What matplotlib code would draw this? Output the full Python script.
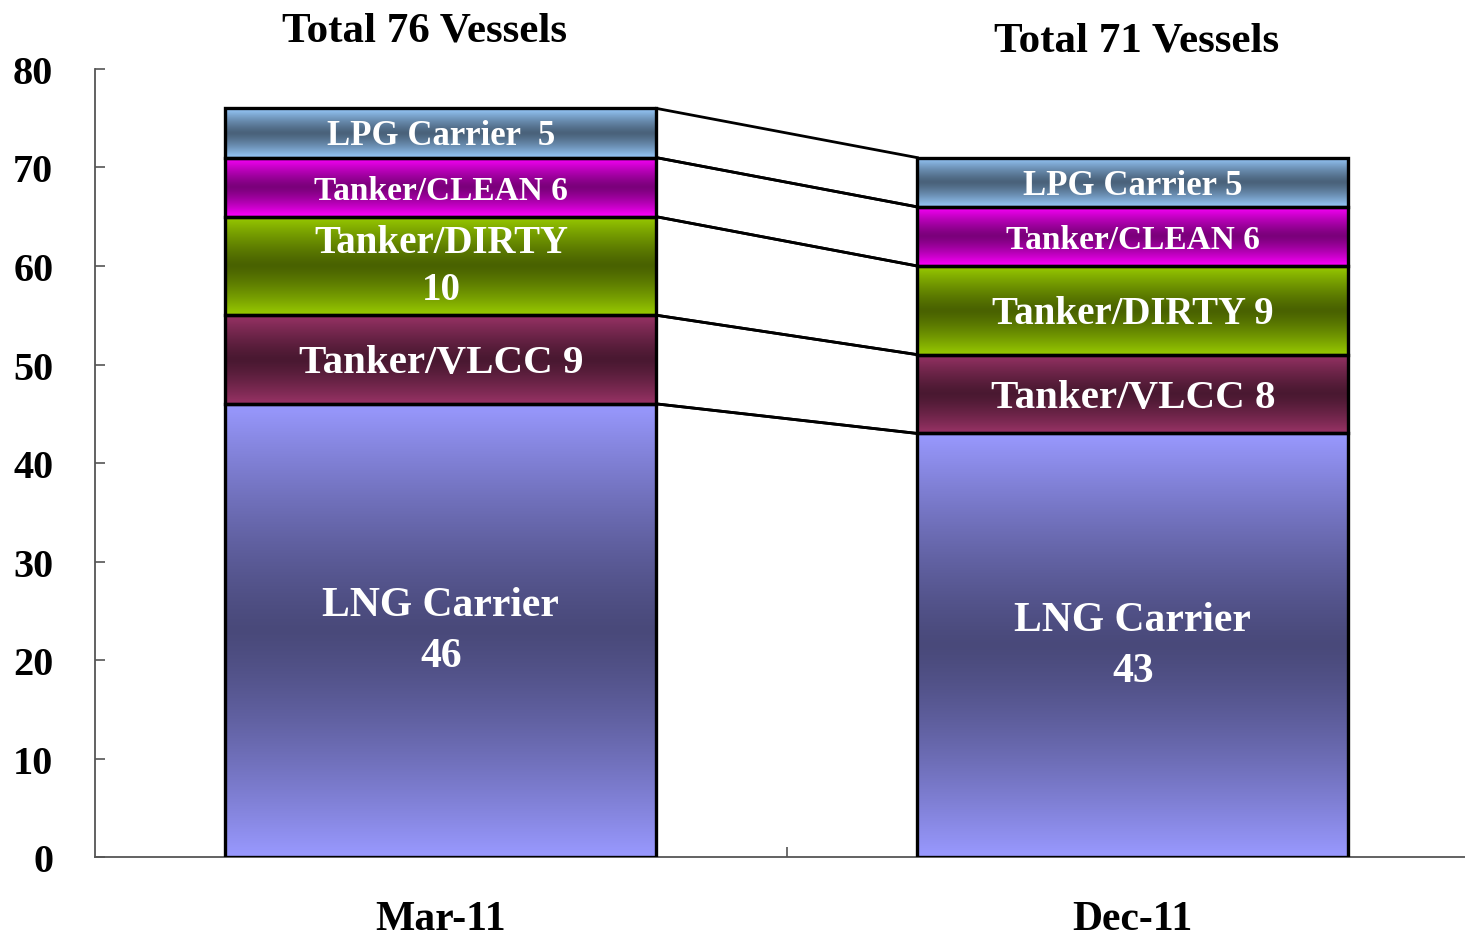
import matplotlib
matplotlib.use('Agg')
import matplotlib.pyplot as plt
import numpy as np
from matplotlib.colors import to_rgb

plt.rcParams['font.family'] = ['Liberation Serif', 'DejaVu Serif']
plt.rcParams['font.weight'] = 'bold'

# data
periods = ['Mar-11', 'Dec-11']
totals = [76, 71]
segments = ['LNG Carrier', 'Tanker/VLCC', 'Tanker/DIRTY', 'Tanker/CLEAN', 'LPG Carrier']
mar11 = [46, 9, 10, 6, 5]
dec11 = [43, 8, 9, 6, 5]
labels_mar = ['LNG Carrier\n46', 'Tanker/VLCC 9', 'Tanker/DIRTY\n10', 'Tanker/CLEAN 6', 'LPG Carrier  5']
labels_dec = ['LNG Carrier\n43', 'Tanker/VLCC 8', 'Tanker/DIRTY 9', 'Tanker/CLEAN 6', 'LPG Carrier 5']

edge_colors = ['#9999FF', '#993366', '#99CC00', '#FF00FF', '#99CCFF']
label_sizes = [30, 29.5, 28, 24, 25]
line_gaps = [1.45, 1.0, 1.38, 1.0, 1.0]

fig = plt.figure(figsize=(14.65, 9.37), dpi=100)
ax = fig.add_axes([0.0648, 0.0843, 0.9352, 0.841])

width = 0.623
x = np.arange(len(periods))
values = np.array([mar11, dec11]).T  # segment x period
bottoms = np.vstack([np.zeros(len(periods)), np.cumsum(values, axis=0)[:-1]])


def gradient(color, n=256):
    c = np.array(to_rgb(color))
    dark = c * 0.48
    t = np.linspace(-1, 1, n)
    w = np.abs(t)[:, None] ** 1.3
    img = dark + (c - dark) * w
    return img[:, None, :]


for i, seg in enumerate(segments):
    bars = ax.bar(x, values[i], width, bottom=bottoms[i], facecolor='none',
                  edgecolor='black', linewidth=2.4, zorder=3)
    for b in bars:
        x0, y0 = b.get_x(), b.get_y()
        ax.imshow(gradient(edge_colors[i]), extent=[x0, x0 + b.get_width(), y0, y0 + b.get_height()],
                  aspect='auto', interpolation='bilinear', zorder=2)

ax.set_xlim(-0.5, 1.48)
ax.set_ylim(0, 80)

# connector lines between bars
tops = np.cumsum(values, axis=0)
for i in range(len(segments)):
    ax.plot([x[0] + width / 2, x[1] - width / 2], [tops[i, 0], tops[i, 1]],
            color='black', lw=2, zorder=3)
    if i > 0:
        ax.plot([x[0] + width / 2, x[1] - width / 2], [bottoms[i, 0], bottoms[i, 1]],
                color='black', lw=2, zorder=3)

# segment labels (single-line ones sit a touch lower in the original)
for j, labs in enumerate([labels_mar, labels_dec]):
    for i, lab in enumerate(labs):
        dy = 0 if '\n' in lab else -0.3
        ax.text(x[j], bottoms[i, j] + values[i, j] / 2 + dy, lab, ha='center', va='center',
                color='white', fontsize=label_sizes[i], fontweight='bold',
                linespacing=line_gaps[i], zorder=4)

# totals above bars
ax.text(x[0] - 0.023, 83.9, f'Total {totals[0]} Vessels', ha='center', va='center',
        fontsize=31, fontweight='bold', clip_on=False)
ax.text(x[1] + 0.006, 82.9, f'Total {totals[1]} Vessels', ha='center', va='center',
        fontsize=31, fontweight='bold', clip_on=False)

for s in ['top', 'right']:
    ax.spines[s].set_visible(False)
for s in ['left', 'bottom']:
    ax.spines[s].set_color('#555555')
    ax.spines[s].set_linewidth(1.3)

ax.set_yticks(np.arange(0, 81, 10))
ax.tick_params(axis='y', direction='in', length=7, width=1.2, color='#555555',
               labelsize=29, pad=30)
ax.set_xticks(x, periods)
ax.tick_params(axis='x', which='major', length=0, labelsize=30, pad=31)
ax.set_xticks([0.5], minor=True)
ax.tick_params(axis='x', which='minor', direction='in', length=7, width=1.2, color='#555555')
for t in ax.get_xticklabels() + ax.get_yticklabels():
    t.set_fontweight('bold')

fig.savefig('out.png', dpi=100)
